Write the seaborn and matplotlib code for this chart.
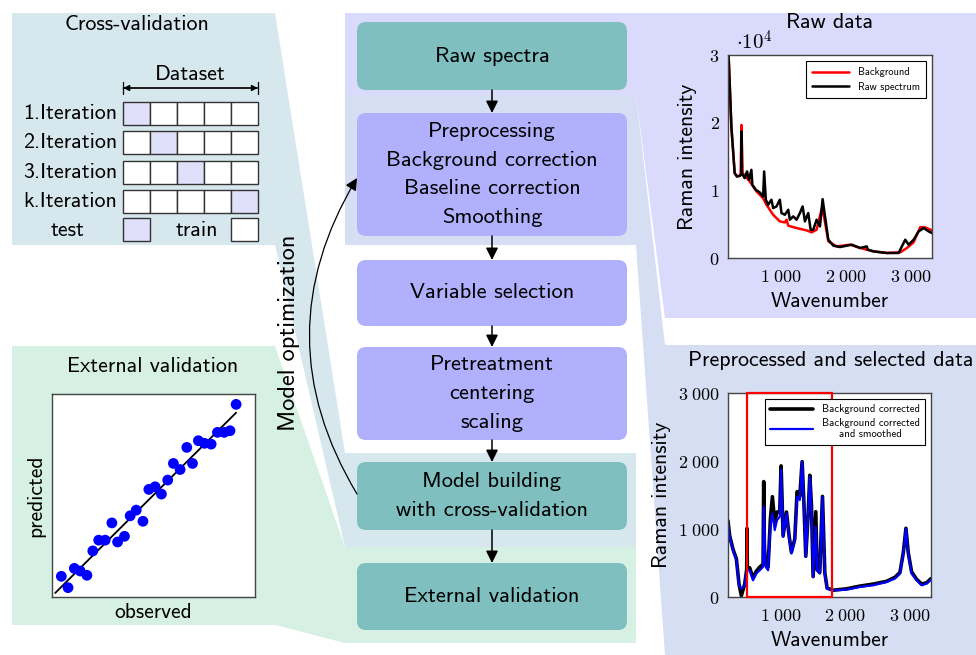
import numpy as np
import pandas as pd
import matplotlib
matplotlib.use('Agg')
import matplotlib.pyplot as plt
from matplotlib.patches import FancyBboxPatch, Rectangle, Polygon, FancyArrowPatch
import seaborn as sns

# ---- raw data panel ----
raw_wn = [190, 232, 283, 319, 361, 385, 387, 392, 438, 474, 505, 541, 556, 609, 671,
          722, 738, 764, 800, 851, 877, 929, 980, 1006, 1058, 1110, 1135, 1187, 1239,
          1290, 1332, 1368, 1419, 1456, 1497, 1548, 1600, 1641, 1678, 1729, 1807, 1910,
          2091, 2220, 2323, 2339, 2426, 2633, 2814, 2865, 2917, 2969, 3046, 3123, 3201,
          3278, 3330]
raw_int = [29750, 19430, 12540, 12050, 12150, 12300, 18690, 12540, 11800, 12790, 11560,
           13030, 10820, 10080, 9690, 9100, 12790, 8610, 7870, 8610, 7380, 7620, 8610,
           6640, 6390, 7130, 5660, 6150, 5660, 6640, 7620, 5410, 6640, 4180, 4180, 5660,
           4670, 8700, 6150, 2700, 1820, 1620, 1970, 1480, 1720, 1230, 980, 740, 740,
           1720, 2700, 1970, 2700, 3930, 4430, 3930, 3690]
bg_wn = [190, 232, 283, 319, 361, 376, 387, 407, 516, 619, 722, 774, 877, 980, 1058,
         1084, 1110, 1239, 1394, 1471, 1548, 1626, 1662, 1729, 1858, 2065, 2220, 2426,
         2633, 2840, 2943, 3046, 3149, 3227, 3330]
bg_int = [29750, 19430, 12540, 12050, 12150, 12540, 19670, 12540, 11310, 9840, 8850,
          7870, 6390, 5410, 5260, 5660, 4770, 4430, 4080, 3790, 4180, 7230, 6150, 2460,
          1720, 1970, 1480, 980, 740, 840, 1480, 2310, 4570, 4520, 4080]

# ---- preprocessed panel ----
corr_wn = [180, 206, 258, 310, 351, 387, 439, 470, 475, 480, 516, 568, 620, 672, 724,
           734, 745, 765, 802, 838, 869, 905, 941, 983, 1004, 1035, 1087, 1128, 1164,
           1216, 1252, 1294, 1330, 1356, 1387, 1423, 1449, 1475, 1501, 1542, 1563, 1604,
           1646, 1682, 1718, 1812, 2019, 2226, 2433, 2640, 2770, 2848, 2900, 2941, 2977,
           3029, 3107, 3185, 3262, 3330]
corr_int = [1120, 900, 700, 560, 190, 20, 190, 400, 1008, 420, 430, 280, 380, 440, 480,
            1697, 700, 480, 440, 1150, 1475, 1100, 1250, 1250, 1928, 900, 1250, 900, 660,
            850, 1550, 1480, 1990, 1430, 600, 1200, 1790, 1350, 300, 1254, 400, 360, 1480,
            360, 130, 100, 120, 160, 190, 230, 290, 360, 650, 1010, 650, 370, 260, 190,
            210, 270]
smooth_wn = [180, 206, 258, 310, 351, 387, 439, 475, 516, 568, 620, 672, 724, 734, 765,
             802, 838, 869, 905, 941, 983, 1004, 1035, 1087, 1128, 1164, 1216, 1252, 1294,
             1330, 1356, 1387, 1423, 1449, 1475, 1501, 1542, 1563, 1604, 1646, 1682, 1718,
             1812, 2019, 2226, 2433, 2640, 2770, 2848, 2900, 2941, 2977, 3029, 3107, 3185,
             3262, 3330]
smooth_int = [1107, 885, 689, 541, 172, 123, 172, 393, 393, 246, 344, 393, 443, 1328, 443,
              393, 1033, 1229, 984, 1131, 1180, 1869, 885, 1229, 885, 639, 836, 1475, 1426,
              1992, 1426, 590, 1180, 1771, 1328, 295, 1033, 393, 344, 1475, 344, 123, 98,
              108, 148, 172, 221, 270, 344, 639, 1008, 639, 344, 246, 172, 197, 256]
sel_range = [470, 1790]

wn_ticks = [1000, 2000, 3000]
wn_labels = [r'$1\;000$', r'$2\;000$', r'$3\;000$']
raw_ticks = [0, 10000, 20000, 30000]
raw_labels = [r'$0$', r'$1$', r'$2$', r'$3$']
pre_ticks = [0, 1000, 2000, 3000]
pre_labels = [r'$0$', r'$1\;000$', r'$2\;000$', r'$3\;000$']

# ---- external validation ----
observed = [0.046, 0.079, 0.110, 0.139, 0.172, 0.201, 0.230, 0.262, 0.295, 0.323, 0.357,
            0.385, 0.415, 0.448, 0.477, 0.508, 0.539, 0.570, 0.598, 0.631, 0.664, 0.692,
            0.721, 0.751, 0.784, 0.815, 0.848, 0.877, 0.907]
predicted = [0.102, 0.046, 0.141, 0.128, 0.107, 0.227, 0.280, 0.280, 0.365, 0.271, 0.299,
             0.400, 0.428, 0.373, 0.530, 0.543, 0.507, 0.576, 0.658, 0.628, 0.737, 0.658,
             0.770, 0.757, 0.753, 0.811, 0.811, 0.819, 0.949]
fit_x = [0.016, 0.907]
fit_y = [0.020, 0.908]

# ---- cross-validation scheme ----
iterations = ['1.Iteration', '2.Iteration', '3.Iteration', 'k.Iteration']
test_fold = [0, 1, 2, 4]
n_folds = 5

# ---- workflow ----
steps = [
    ('Raw spectra', [], 'teal'),
    ('Preprocessing', ['Background correction', 'Baseline correction', 'Smoothing'], 'lav'),
    ('Variable selection', [], 'lav'),
    ('Pretreatment', ['centering', 'scaling'], 'lav'),
    ('Model building', ['with cross-validation'], 'teal'),
    ('External validation', [], 'teal'),
]

W, H = 976, 655
TEAL = '#80bfbf'
LAV = '#b0b0fc'
CV_BG = '#d6e7ed'
EV_BG = '#d6f0e3'
RAW_BG = '#dadafc'
PRE_BG = '#d6def4'
TEST_C = '#e0e0fa'
BOX_FS = 16.2
PANEL_FS = 15.8
LABEL_FS = 15.5

sns.set_theme(style='white')
plt.rcParams['font.family'] = ['cmss10', 'DejaVu Sans']
plt.rcParams['mathtext.fontset'] = 'cm'
plt.rcParams['axes.unicode_minus'] = False
plt.rcParams['text.color'] = 'black'
plt.rcParams['axes.labelcolor'] = 'black'

fig = plt.figure(figsize=(W / 100, H / 100), dpi=100)
ax = fig.add_axes([0, 0, 1, 1])
ax.set_xlim(0, W)
ax.set_ylim(H, 0)
ax.axis('off')


def inset(l, t, r, b):
    return fig.add_axes([l / W, 1 - b / H, (r - l) / W, (b - t) / H])


# background panels
ax.add_patch(Polygon([(345, 95), (636, 95), (665, 345), (976, 345), (976, 655), (665, 655),
                      (636, 245), (345, 245)], closed=True, fc=PRE_BG, ec='none'))
ax.add_patch(Polygon([(345, 13), (976, 13), (976, 318), (665, 318), (636, 95), (345, 95)],
                     closed=True, fc=RAW_BG, ec='none'))
ax.add_patch(Polygon([(12, 13), (275, 13), (345, 453), (636, 453), (636, 547), (345, 547),
                      (275, 245), (12, 245)], closed=True, fc=CV_BG, ec='none'))
ax.add_patch(Polygon([(12, 346), (275, 346), (345, 547), (636, 547), (636, 643), (345, 643),
                      (275, 625), (12, 625)], closed=True, fc=EV_BG, ec='none'))

# workflow boxes
box_top = [22, 113, 260, 347, 462, 563]
box_bot = [90, 236, 326, 440, 530, 630]
bx0, bx1 = 357, 627
line_h = 28.5
for (title, sub, kind), t, b in zip(steps, box_top, box_bot):
    ax.add_patch(FancyBboxPatch((bx0, t), bx1 - bx0, b - t,
                                boxstyle='round,pad=0,rounding_size=9',
                                fc=TEAL if kind == 'teal' else LAV, ec='none'))
    lines = [title] + sub
    yc = (t + b) / 2 - line_h * (len(lines) - 1) / 2
    for i, s in enumerate(lines):
        ax.text((bx0 + bx1) / 2, yc + i * line_h, s, ha='center', va='center',
                fontsize=BOX_FS)

for b, t in zip(box_bot[:-1], box_top[1:]):
    ax.annotate('', xy=(492, t), xytext=(492, b),
                arrowprops=dict(arrowstyle='-|>', color='black', lw=1.1, mutation_scale=18,
                                shrinkA=0, shrinkB=0))

# model optimisation loop
ax.add_patch(FancyArrowPatch((357, 494), (357, 178), connectionstyle='arc3,rad=-0.3',
                             arrowstyle='-|>', mutation_scale=18, color='black', lw=0.9,
                             shrinkA=0, shrinkB=0))
ax.text(289, 333, 'Model optimization', rotation=90, ha='center', va='center',
        fontsize=17.5)

# cross-validation scheme
ax.text(137, 24, 'Cross-validation', ha='center', va='center', fontsize=PANEL_FS)
cx0, cw = 123.3, 26.9
row_t = [102, 131, 161, 190]
rh = 23.3
ax.text(190, 74, 'Dataset', ha='center', va='center', fontsize=PANEL_FS)
ax.annotate('', xy=(cx0 + n_folds * cw, 88), xytext=(cx0, 88),
            arrowprops=dict(arrowstyle='<|-|>', color='black', lw=0.9, mutation_scale=9,
                            shrinkA=0, shrinkB=0))
ax.annotate('', xy=(cx0 + n_folds * cw, 88), xytext=(cx0, 88),
            arrowprops=dict(arrowstyle='|-|', color='black', lw=0.9, mutation_scale=4,
                            shrinkA=0, shrinkB=0))
for label, tf, t in zip(iterations, test_fold, row_t):
    ax.text(117, t + rh / 2, label, ha='right', va='center', fontsize=PANEL_FS)
    for j in range(n_folds):
        ax.add_patch(Rectangle((cx0 + j * cw, t), cw, rh, fc=TEST_C if j == tf else 'white',
                               ec='#333333', lw=1))
ax.text(68, 230, 'test', ha='center', va='center', fontsize=PANEL_FS)
ax.add_patch(Rectangle((cx0, 218), cw, rh, fc=TEST_C, ec='#333333', lw=1))
ax.text(197, 230, 'train', ha='center', va='center', fontsize=PANEL_FS)
ax.add_patch(Rectangle((cx0 + 4 * cw, 218), cw, rh, fc='white', ec='#333333', lw=1))

# panel titles
ax.text(830, 22, 'Raw data', ha='center', va='center', fontsize=PANEL_FS)
ax.text(831, 361, 'Preprocessed and selected data', ha='center', va='center',
        fontsize=PANEL_FS)
ax.text(153, 366, 'External validation', ha='center', va='center', fontsize=PANEL_FS)
ax.text(736, 42, r'$\cdot 10^4$', ha='left', va='center', fontsize=15)


def style_spec(a):
    a.set_xlim(180, 3330)
    a.set_xticks(wn_ticks)
    a.set_xticklabels(wn_labels)
    a.tick_params(axis='both', length=0, labelsize=13, colors='black')
    a.tick_params(axis='x', pad=8)
    a.tick_params(axis='y', pad=6)
    for s in a.spines.values():
        s.set_color('#444444')
        s.set_linewidth(1.0)
    a.set_xlabel('Wavenumber', fontsize=LABEL_FS, labelpad=5)


# raw data plot
a1 = inset(728, 55, 932, 258)
sns.lineplot(x=bg_wn, y=bg_int, ax=a1, color='red', lw=1.8, sort=False, estimator=None,
             label='Background')
sns.lineplot(x=raw_wn, y=raw_int, ax=a1, color='black', lw=1.8, sort=False, estimator=None,
             label='Raw spectrum')
style_spec(a1)
a1.set_ylabel('Raman intensity', fontsize=LABEL_FS, labelpad=9)
a1.set_ylim(0, 30000)
a1.set_yticks(raw_ticks)
a1.set_yticklabels(raw_labels)
leg = a1.legend(loc='upper right', fontsize=7.5, frameon=True, fancybox=False,
                edgecolor='black', framealpha=1, handlelength=3.6, borderpad=0.6,
                labelspacing=0.45, borderaxespad=0, bbox_to_anchor=(0.97, 0.97))
leg.get_frame().set_linewidth(0.8)

# preprocessed plot
a2 = inset(728, 393, 931, 597)
sns.lineplot(x=corr_wn, y=corr_int, ax=a2, color='black', lw=2.6, sort=False,
             estimator=None, label='Background corrected')
sns.lineplot(x=smooth_wn, y=smooth_int, ax=a2, color='blue', lw=1.6, sort=False,
             estimator=None, label='Background corrected\nand smoothed')
a2.add_patch(Rectangle((sel_range[0], 0), sel_range[1] - sel_range[0], 3000, fc='none',
                       ec='red', lw=1.6, clip_on=False, zorder=5))
style_spec(a2)
a2.set_ylabel('Raman intensity', fontsize=LABEL_FS, labelpad=5)
a2.set_ylim(0, 3000)
a2.set_yticks(pre_ticks)
a2.set_yticklabels(pre_labels)
leg = a2.legend(loc='upper right', fontsize=7.7, frameon=True, fancybox=False,
                edgecolor='black', framealpha=1, handlelength=4.0, borderpad=0.5,
                labelspacing=0.3, borderaxespad=0, bbox_to_anchor=(0.97, 0.97))
leg.get_frame().set_linewidth(0.8)
leg.get_texts()[1].set_multialignment('center')

# external validation plot
a3 = inset(52, 394, 255, 597)
sns.lineplot(x=fit_x, y=fit_y, ax=a3, color='black', lw=1.3)
sns.scatterplot(x=observed, y=predicted, ax=a3, color='blue', s=60, edgecolor='none',
                zorder=3)
a3.set_xlim(0, 1)
a3.set_ylim(0, 1)
a3.set_xticks([])
a3.set_yticks([])
for s in a3.spines.values():
    s.set_color('#444444')
    s.set_linewidth(1.0)
a3.set_xlabel('observed', fontsize=LABEL_FS, labelpad=4)
a3.set_ylabel('predicted', fontsize=LABEL_FS, labelpad=5)

fig.savefig('out.png', dpi=100)
